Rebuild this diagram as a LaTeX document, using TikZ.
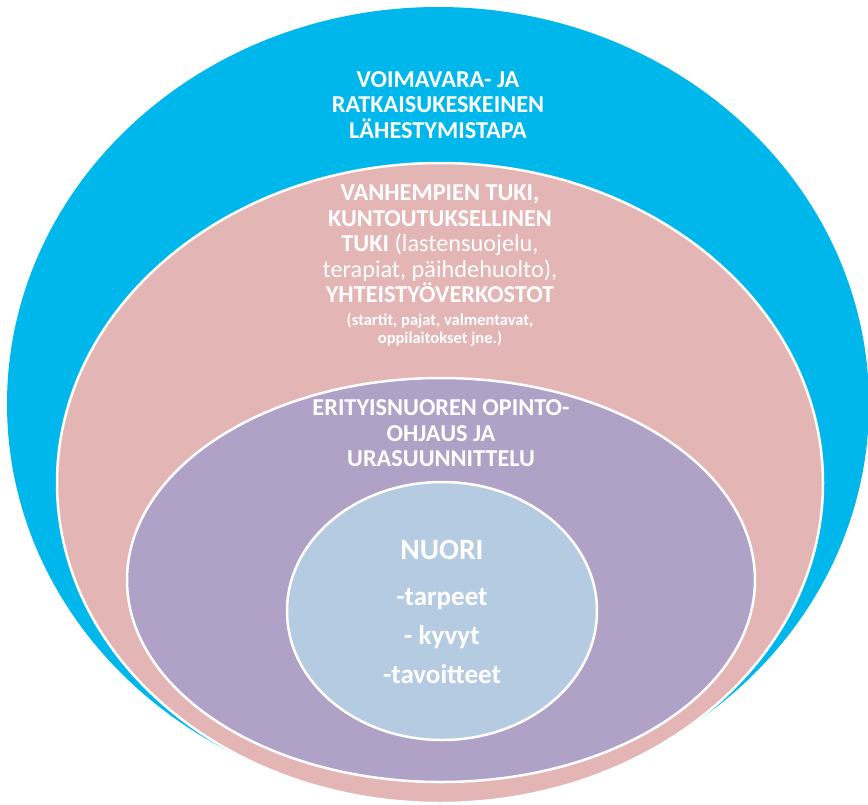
\documentclass[tikz,border=0pt]{standalone}
\usepackage{fontspec}
\setmainfont{Carlito}
\definecolor{cblue}{HTML}{00B7EB}
\definecolor{cpink}{HTML}{E3B5B5}
\definecolor{cpurple}{HTML}{B0A1C6}
\definecolor{clight}{HTML}{B5CBE2}
\begin{document}
\begin{tikzpicture}[x=1pt,y=-1pt,
  ring/.style={draw=white,line width=2.5pt},
  txt/.style={text=white,font=\bfseries,align=center,inner sep=0pt,anchor=north}]
\useasboundingbox (0,0) rectangle (868,804);
\fill[cblue] (438,404) ellipse [x radius=431, y radius=397];
\filldraw[fill=cpink, ring] (440,483) ellipse [x radius=383, y radius=320];
\filldraw[fill=cpurple, ring] (441,580) ellipse [x radius=314, y radius=202];
\filldraw[fill=clight, ring] (442,611) ellipse [x radius=155, y radius=129];
\node[txt,font=\bfseries\fontsize{24.3}{25.5}\selectfont] (tblue) at (438,71)
  {VOIMAVARA- JA\\RATKAISUKESKEINEN\\LÄHESTYMISTAPA};
\node[txt,font=\bfseries\fontsize{24.3}{25.5}\selectfont] (tpink) at (440,185)
  {VANHEMPIEN TUKI,\\KUNTOUTUKSELLINEN\\TUKI {\mdseries(lastensuojelu,}\\{\mdseries terapiat, päihdehuolto),}\\YHTEISTYÖVERKOSTOT};
\node[txt,font=\bfseries\fontsize{16.5}{18}\selectfont] (tpinksmall) at (440,313)
  {(startit, pajat, valmentavat,\\oppilaitokset jne.)};
\node[txt,font=\bfseries\fontsize{24.3}{25.5}\selectfont] (tpurple) at (441,399.5)
  {ERITYISNUOREN OPINTO-\\OHJAUS JA\\URASUUNNITTELU};
\node[txt,font=\bfseries\fontsize{29.5}{30}\selectfont] (tnuori) at (442,540) {NUORI};
\node[txt,font=\bfseries\fontsize{27}{39}\selectfont] (tlist) at (442,588)
  {-tarpeet\\- kyvyt\\-tavoitteet};
\end{tikzpicture}
\end{document}
